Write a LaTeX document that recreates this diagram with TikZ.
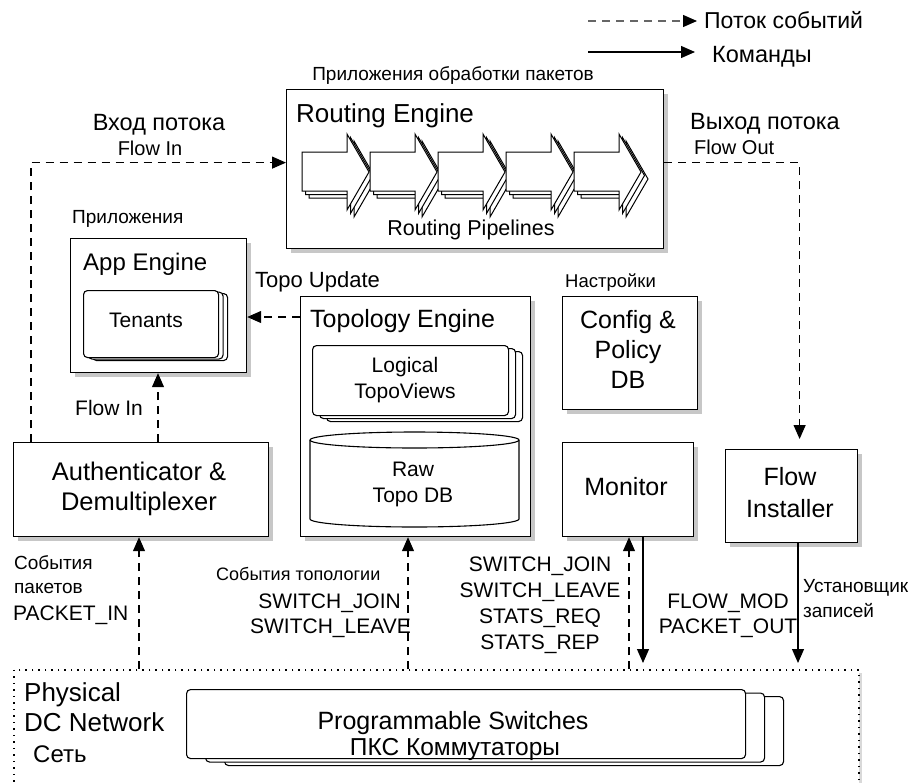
\documentclass[tikz,border=0pt]{standalone}
\usepackage{fontspec}
\setmainfont{Liberation Sans}
\usetikzlibrary{arrows.meta,shadows}
\newcommand\fsz[1]{\fontsize{#1}{#1}\selectfont}
\newcommand\cardstack[7]{% name, x, y, w, h, dx, dy
  \node[card,minimum width=#4,minimum height=#5] (#1c) at ({#2+2*#6},{#3+2*#7}) {};
  \node[card,minimum width=#4,minimum height=#5] (#1b) at ({#2+#6},{#3+#7}) {};
  \node[card,minimum width=#4,minimum height=#5] (#1) at (#2,#3) {};
}
\newcommand\pipearrow[2]{% x, offset
  \draw[line width=1pt,fill=white,line join=miter]
    ({#1+#2},{152+#2}) -- ({#1+45+#2},{152+#2}) -- ({#1+45+#2},{134+#2}) --
    ({#1+67+#2},{172+#2}) -- ({#1+45+#2},{210+#2}) -- ({#1+45+#2},{191+#2}) --
    ({#1+#2},{191+#2}) -- cycle;
}
\begin{document}
\begin{tikzpicture}[x=1pt,y=-1pt,
  box/.style={draw,line width=1.2pt,fill=white,inner sep=0pt,anchor=north west,
    drop shadow={shadow xshift=4pt,shadow yshift=-4pt,opacity=0.22,fill=black}},
  card/.style={draw,line width=1.1pt,fill=white,rounded corners=4pt,inner sep=0pt,anchor=north west},
  txt/.style={inner sep=0pt},
  dsh/.style={line width=1.2pt,dash pattern=on 8pt off 6pt},
  sol/.style={line width=1.2pt},
  arr/.style={-{Triangle[length=14pt,width=12pt,color=black]}},
]
\useasboundingbox (0,0) rectangle (915,782);

% ---------- legend ----------
\coordinate (l1a) at (588,21); \coordinate (l1b) at (697,21);
\coordinate (l2a) at (588,52); \coordinate (l2b) at (695,52);
\draw[dsh,arr,draw=black!60] (l1a) -- (l1b);
\draw[sol,arr] (l2a) -- (l2b);
\node[txt,anchor=base west,font=\fsz{23}] (leg1) at (704,28) {Поток событий};
\node[txt,anchor=base west,font=\fsz{23.5}] (leg2) at (712,62) {Команды};

% ---------- boxes ----------
\node[box,minimum width=377,minimum height=159] (route) at (286,89) {};
\node[box,minimum width=176,minimum height=134] (app) at (70,238) {};
\node[box,minimum width=230,minimum height=240] (topo) at (300,296) {};
\node[box,minimum width=135,minimum height=113] (cfg) at (562,296) {};
\node[box,minimum width=255,minimum height=94] (auth) at (13,442) {};
\node[box,minimum width=131,minimum height=94] (mon) at (562,442) {};
\node[box,minimum width=132,minimum height=93] (fi) at (725,449) {};
\node[draw,line width=1.5pt,dash pattern=on 1.5pt off 5pt,fill=white,anchor=north west,
  inner sep=0pt,minimum width=845,minimum height=130,
  drop shadow={shadow xshift=3pt,shadow yshift=-3pt,opacity=0.15,fill=black}] (net) at (13,669) {};

% ---------- routing pipelines ----------
\foreach \o in {7,3.5,0}{
  \foreach \x in {302,370,438,506,574}{\pipearrow{\x}{\o}}
}

% ---------- stacks ----------
\cardstack{ten}{83}{290}{135}{67}{4.5}{1.5}
\cardstack{logic}{312}{345}{196}{70}{7}{3}
\cardstack{sw}{186}{689}{559}{69}{19}{3.5}

% ---------- cylinder ----------
\draw[line width=1.1pt,fill=white] (310,440) -- (310,519)
  arc[start angle=180,end angle=360,x radius=104.5pt,y radius=8pt] -- (519,440)
  arc[start angle=0,end angle=180,x radius=104.5pt,y radius=8pt] -- cycle;
\draw[line width=1.1pt] (310,440) arc[start angle=180,end angle=360,x radius=104.5pt,y radius=8pt];

% ---------- texts ----------
\node[txt,anchor=base,font=\fsz{19}] (rtitle) at (453,80) {Приложения обработки пакетов};
\node[txt,anchor=base west,font=\fsz{26}] (rlabel) at (296,122) {Routing Engine};
\node[txt,anchor=base,font=\fsz{21.5}] (rpipe) at (471,235) {Routing Pipelines};
\node[txt,anchor=base,font=\fsz{23.5}] (vin) at (159,130) {Вход потока};
\node[txt,anchor=base,font=\fsz{20}] (fin) at (150,155) {Flow In};
\node[txt,anchor=base west,font=\fsz{23.5}] (vout) at (690,129) {Выход потока};
\node[txt,anchor=base west,font=\fsz{20}] (fout) at (694,154) {Flow Out};
\node[txt,anchor=base west,font=\fsz{19}] (apps) at (72,223) {Приложения};
\node[txt,anchor=base west,font=\fsz{24}] (applabel) at (83,270) {App Engine};
\node[txt,anchor=base,font=\fsz{21}] (tentxt) at (146,327) {Tenants};
\node[txt,anchor=base west,font=\fsz{22}] (topoupd) at (255,287) {Topo Update};
\node[txt,anchor=base west,font=\fsz{25}] (topolabel) at (310,327) {Topology Engine};
\node[txt,anchor=base,font=\fsz{21}] (lg1) at (405,372) {Logical};
\node[txt,anchor=base,font=\fsz{21}] (lg2) at (405,398) {TopoViews};
\node[txt,anchor=base,font=\fsz{21}] (raw1) at (413,476) {Raw};
\node[txt,anchor=base,font=\fsz{21}] (raw2) at (413,502) {Topo DB};
\node[txt,anchor=base west,font=\fsz{18.5}] (nastr) at (565,287) {Настройки};
\node[txt,anchor=base,font=\fsz{25}] (cf1) at (628,328) {Config \&};
\node[txt,anchor=base,font=\fsz{25}] (cf2) at (628,358) {Policy};
\node[txt,anchor=base,font=\fsz{25}] (cf3) at (628,388) {DB};
\node[txt,anchor=base,font=\fsz{25.5}] (au1) at (139,480) {Authenticator \&};
\node[txt,anchor=base,font=\fsz{25.5}] (au2) at (139,510) {Demultiplexer};
\node[txt,anchor=base west,font=\fsz{21}] (fin2) at (75,415) {Flow In};
\node[txt,anchor=base,font=\fsz{25}] (montxt) at (626,495) {Monitor};
\node[txt,anchor=base,font=\fsz{25}] (fi1) at (790,485) {Flow};
\node[txt,anchor=base,font=\fsz{25}] (fi2) at (790,517) {Installer};
\node[txt,anchor=base west,font=\fsz{19}] (ev1) at (14,569) {События};
\node[txt,anchor=base west,font=\fsz{19}] (ev2) at (14,593) {пакетов};
\node[txt,anchor=base west,font=\fsz{21}] (ev3) at (13,620) {PACKET\_IN};
\node[txt,anchor=base west,font=\fsz{18}] (tev) at (216,580) {События топологии};
\node[txt,anchor=base east,font=\fsz{21}] (tj) at (401,608) {SWITCH\_JOIN};
\node[txt,anchor=base east,font=\fsz{21}] (tl) at (411,633) {SWITCH\_LEAVE};
\node[txt,anchor=base,font=\fsz{21}] (m1) at (540,571) {SWITCH\_JOIN};
\node[txt,anchor=base,font=\fsz{21}] (m2) at (540,597) {SWITCH\_LEAVE};
\node[txt,anchor=base,font=\fsz{21}] (m3) at (540,623) {STATS\_REQ};
\node[txt,anchor=base,font=\fsz{21}] (m4) at (540,649) {STATS\_REP};
\node[txt,anchor=base,font=\fsz{21}] (fm1) at (728,608) {FLOW\_MOD};
\node[txt,anchor=base,font=\fsz{21}] (fm2) at (728,633) {PACKET\_OUT};
\node[txt,anchor=base west,font=\fsz{19}] (us1) at (803,592) {Установщик};
\node[txt,anchor=base west,font=\fsz{19}] (us2) at (803,617) {записей};
\node[txt,anchor=base west,font=\fsz{26}] (ph1) at (24,701) {Physical};
\node[txt,anchor=base west,font=\fsz{26}] (ph2) at (24,731) {DC Network};
\node[txt,anchor=base west,font=\fsz{24}] (ph3) at (33,762) {Сеть};
\node[txt,anchor=base,font=\fsz{25}] (sw1) at (453,729) {Programmable Switches};
\node[txt,anchor=base,font=\fsz{24.5}] (sw2) at (455,755) {ПКС Коммутаторы};

% ---------- connectors ----------
\draw[dsh,arr] ([xshift=18pt]auth.north west) |- ([yshift=6.5pt]route.west);
\draw[dsh,arr,shorten >=10pt] ([yshift=6.5pt]route.east) -| ([xshift=8pt]fi.north);
\draw[dsh,arr] (topo.west |- 0,317) -- (app.east |- 0,317);
\draw[dsh,arr] (auth.north -| 158,0) -- (app.south -| 158,0);
\draw[dsh,arr] (net.north -| 139,0) -- (auth.south -| 139,0);
\draw[dsh,arr] (net.north -| 408,0) -- (topo.south -| 408,0);
\draw[dsh,arr] (net.north -| 629,0) -- (mon.south -| 629,0);
\draw[sol,arr,shorten >=6pt] (mon.south -| 643,0) -- (net.north -| 643,0);
\draw[sol,arr,shorten >=6pt] (fi.south -| 798,0) -- (net.north -| 798,0);
\end{tikzpicture}
\end{document}
